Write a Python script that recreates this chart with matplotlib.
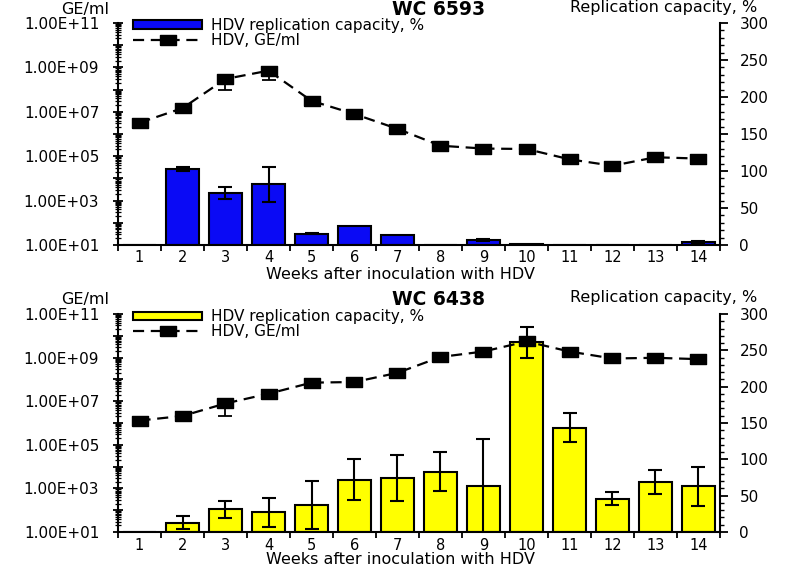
import numpy as np
import matplotlib
matplotlib.use('Agg')
import matplotlib.pyplot as plt
from matplotlib.ticker import FixedLocator, LogLocator, NullFormatter, FuncFormatter, MultipleLocator

plt.rcParams['font.family'] = ['DejaVu Sans']

weeks = list(range(1, 15))
week_labels = [str(w) for w in weeks]

# Top panel: WC 6593
top_title = "WC 6593"
top_capacity = [0, 103, 70, 82, 15, 26, 13.5, 0, 6.7, 1, 0, 0, 0, 4]
top_capacity_err = [0, 3, 8, 24, 0.5, 0, 0, 0, 1.5, 0, 0, 0, 0, 1]
top_ge = [3.2e6, 1.45e7, 3.0e8, 7.1e8, 3.1e7, 7.9e6, 1.7e6, 2.95e5, 2.2e5,
          2.1e5, 7.2e4, 3.7e4, 8.9e4, 7.8e4]
top_ge_err_low = [0, 0, 2.0e8, 4.4e8, 0, 0, 0, 0, 0, 4e4, 0, 0, 0, 0]

# Bottom panel: WC 6438
bottom_title = "WC 6438"
bottom_capacity = [0, 13, 31, 27, 37, 72, 74, 83, 63, 261, 143.5, 46, 69, 63]
bottom_capacity_err = [0, 9, 12, 20, 33, 28, 32, 27, 65, 21, 20, 9.5, 17, 27]
bottom_ge = [1.3e6, 2.1e6, 7.9e6, 2.2e7, 7.1e7, 7.6e7, 2.0e8, 1.07e9, 1.9e9,
             5.5e9, 1.9e9, 9.1e8, 9.8e8, 8.5e8]
bottom_ge_err_low = [0, 0, 5.8e6, 0, 0, 0, 0, 0, 0, 0, 0, 0, 3.6e8, 0]

left_label = "GE/ml"
right_label = "Replication capacity, %"
x_label = "Weeks after inoculation with HDV"
bar_legend = "HDV replication capacity, %"
line_legend = "HDV, GE/ml"

FS = 11
fig = plt.figure(figsize=(8, 5.67), dpi=100)

rect_marker = [(-1, -0.55), (1, -0.55), (1, 0.55), (-1, 0.55), (-1, -0.55)]


def panel(rect, title, cap, cap_err, ge, ge_err, color, ytxt, xlab_y):
    ax = fig.add_axes(rect)
    ax2 = ax.twinx()
    x = np.array(weeks)
    cap = np.array(cap, float)
    cap_err = np.array(cap_err, float)
    bars = ax.bar(x, cap, width=0.75, color=color, edgecolor='black',
                  linewidth=1.5, label=bar_legend, zorder=2)
    m = cap_err > 0
    ax.errorbar(x[m], cap[m], yerr=cap_err[m], fmt='none', ecolor='black',
                elinewidth=1.5, capsize=5, capthick=1.5, zorder=3)
    ax.set_ylim(0, 300)
    ax.set_xlim(0.5, 14.5)
    ax.yaxis.tick_right()
    ax.yaxis.set_major_locator(MultipleLocator(50))
    ax.yaxis.set_minor_locator(MultipleLocator(10))
    ax.tick_params(axis='y', which='major', direction='out', length=6, width=1.3,
                   labelsize=FS, pad=8)
    ax.tick_params(axis='y', which='minor', direction='out', length=3, width=1)
    ax.xaxis.set_major_locator(FixedLocator(weeks))
    ax.set_xticklabels(week_labels)
    ax.xaxis.set_minor_locator(FixedLocator(np.arange(0.5, 15, 1.0)))
    ax.tick_params(axis='x', which='major', length=0, labelsize=10.5, pad=4)
    ax.tick_params(axis='x', which='minor', direction='out', length=4, width=1.3)
    for s in ['top', 'left']:
        ax.spines[s].set_visible(False)
    for s in ['right', 'bottom']:
        ax.spines[s].set_linewidth(1.5)

    ax2.set_yscale('log')
    ax2.set_ylim(1e1, 1e11)
    ax2.yaxis.tick_left()
    ge = np.array(ge, float)
    ge_err = np.array(ge_err, float)
    line, = ax2.plot(x, ge, color='black', linestyle=(0, (5, 3)), linewidth=1.6,
                     marker=rect_marker, markersize=12, markerfacecolor='black',
                     label=line_legend, zorder=4)
    mm = ge_err > 0
    ax2.errorbar(x[mm], ge[mm], yerr=[ge_err[mm], np.zeros(mm.sum())], fmt='none',
                 ecolor='black', elinewidth=1.3, capsize=5, capthick=1.3, zorder=4)
    ax2.yaxis.set_major_locator(FixedLocator([10.0 ** k for k in range(1, 12)]))
    ax2.yaxis.set_major_formatter(FuncFormatter(
        lambda v, p: ("%.2E" % v) if int(round(np.log10(v))) % 2 == 1 else ""))
    ax2.yaxis.set_minor_locator(LogLocator(base=10, subs=np.arange(2, 10), numticks=100))
    ax2.yaxis.set_minor_formatter(NullFormatter())
    ax2.tick_params(axis='y', which='major', direction='inout', length=7, width=1.3,
                    labelsize=FS, pad=10)
    ax2.tick_params(axis='y', which='minor', direction='inout', length=5, width=0.9)
    for s in ['top', 'right', 'bottom']:
        ax2.spines[s].set_visible(False)
    ax2.spines['left'].set_linewidth(1.5)

    ax2.legend([bars, line], [bar_legend, line_legend], loc='upper left',
               bbox_to_anchor=(0.015, 1.05), frameon=False, fontsize=FS,
               handlelength=4.5, handleheight=0.45, labelspacing=0.0,
               borderaxespad=0, handletextpad=0.6)

    fig.text(0.106, ytxt, left_label, ha='center', va='center', fontsize=FS + 0.5)
    fig.text(0.548, ytxt, title, ha='center', va='center', fontsize=13.5,
             fontweight='bold')
    fig.text(0.83, ytxt + 0.003, right_label, ha='center', va='center', fontsize=FS + 0.5)
    fig.text(0.5, xlab_y, x_label, ha='center', va='center', fontsize=FS + 0.5)
    return ax, ax2


panel([0.1475, 0.568, 0.7525, 0.3915], top_title, top_capacity, top_capacity_err,
      top_ge, top_ge_err_low, '#0a0af5', 0.983, 0.516)
panel([0.1475, 0.0617, 0.7525, 0.3845], bottom_title, bottom_capacity,
      bottom_capacity_err, bottom_ge, bottom_ge_err_low, '#ffff00', 0.472, 0.013)

fig.savefig('out.png', dpi=100)
